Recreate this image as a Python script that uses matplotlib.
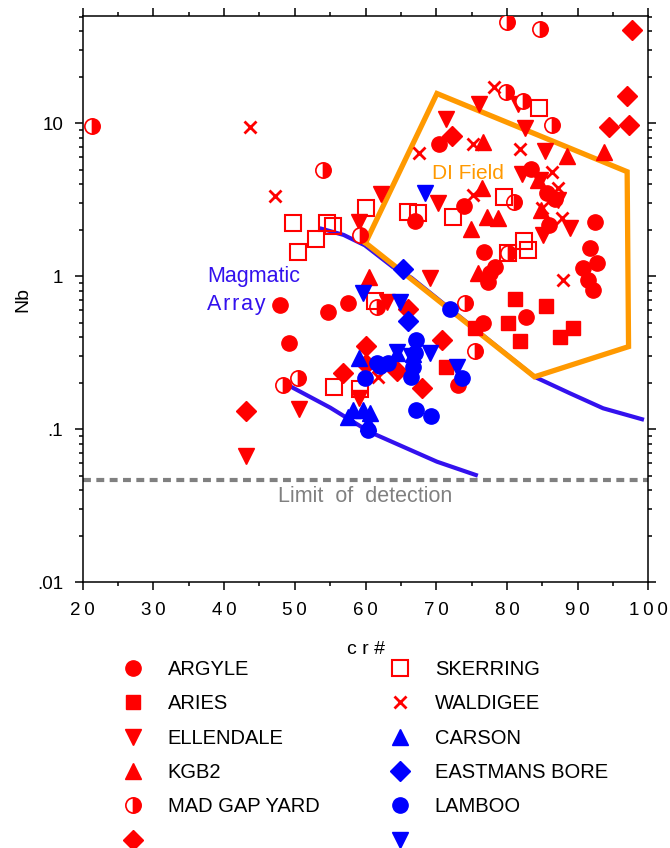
import matplotlib
matplotlib.use('Agg')
import matplotlib.pyplot as plt
from matplotlib.lines import Line2D
from matplotlib.ticker import FixedLocator, FixedFormatter, NullFormatter

plt.rcParams['font.family'] = ['Liberation Sans', 'DejaVu Sans']

# --- data (cr#, Nb) ---
argyle_cr = [47.9, 49.2, 54.7, 57.5, 67.0, 70.4, 83.4, 85.7, 86.8, 86.0, 73.9, 92.5,
             91.7, 92.8, 90.8, 91.5, 92.2, 76.8, 78.3, 77.3, 77.6, 82.7, 76.6, 73.1]
argyle_nb = [0.65, 0.37, 0.59, 0.67, 2.31, 7.34, 5.05, 3.51, 3.21, 2.17, 2.89, 2.27,
             1.53, 1.23, 1.14, 0.95, 0.82, 1.45, 1.15, 0.92, 1.05, 0.54, 0.50, 0.195]

aries_cr = [81.1, 85.5, 80.2, 75.5, 81.9, 89.3, 87.5, 71.4]
aries_nb = [0.71, 0.64, 0.50, 0.46, 0.38, 0.46, 0.40, 0.256]

ellendale_cr = [76.1, 71.4, 82.6, 85.4, 81.6, 62.2, 59.1, 70.3, 69.1, 63.0, 50.6, 43.1,
                82.1, 84.7, 87.2, 88.9, 85.1, 59.1]
ellendale_nb = [13.4, 10.7, 9.35, 6.61, 13.4, 3.46, 2.27, 3.02, 0.98, 0.68, 0.136, 0.067,
                4.68, 4.28, 3.16, 2.08, 1.87, 0.161]

kgb2_cr = [60.5, 93.7, 88.5, 76.6, 76.5, 74.9, 77.2, 78.7, 84.4, 84.8, 75.9]
kgb2_nb = [0.99, 6.51, 6.13, 7.57, 3.79, 2.04, 2.45, 2.41, 4.28, 2.72, 1.05]

madgap_cr = [21.3, 54.0, 80.0, 84.7, 79.8, 82.3, 86.4, 59.2, 48.3, 50.5, 74.1, 75.5,
             61.6, 81.0, 80.2]
madgap_nb = [9.63, 4.97, 46.0, 41.5, 16.1, 14.0, 9.78, 1.87, 0.195, 0.217, 0.67, 0.326,
             0.63, 3.07, 1.43]

red_diamond_cr = [97.7, 97.0, 94.4, 97.3, 72.2, 43.1, 56.8, 60.1, 60.1, 64.5, 70.8, 68.0, 66.0]
red_diamond_nb = [40.8, 15.1, 9.49, 9.78, 8.28, 0.132, 0.234, 0.351, 0.268, 0.241, 0.385,
                  0.187, 0.61]

skerring_cr = [49.7, 54.6, 55.4, 53.0, 50.5, 60.1, 66.0, 67.4, 72.4, 61.3, 84.5, 79.6,
               82.4, 83.0, 80.2, 55.5, 59.2]
skerring_nb = [2.24, 2.24, 2.14, 1.76, 1.45, 2.80, 2.64, 2.60, 2.45, 0.69, 12.6, 3.31,
               1.71, 1.49, 1.43, 0.19, 0.184]

waldigee_cr = [43.7, 47.2, 78.2, 67.6, 75.2, 81.9, 86.4, 87.2, 75.2, 85.0, 87.8, 87.9, 61.8]
waldigee_nb = [9.49, 3.36, 17.3, 6.42, 7.34, 6.81, 4.82, 3.79, 3.41, 2.80, 2.41, 0.95, 0.22]

carson_cr = [59.1, 58.2, 59.6, 60.4, 57.5, 64.5, 66.7, 60.6]
carson_nb = [0.293, 0.134, 0.134, 0.110, 0.121, 0.316, 0.31, 0.128]

eastmans_cr = [65.3, 66.0]
eastmans_nb = [1.12, 0.51]

lamboo_cr = [72.0, 67.1, 67.0, 66.7, 66.4, 73.7, 67.1, 69.3, 59.9, 61.6, 63.2, 62.1, 60.4]
lamboo_nb = [0.61, 0.385, 0.316, 0.256, 0.22, 0.217, 0.134, 0.122, 0.217, 0.272, 0.272,
             0.26, 0.099]

blue_down_cr = [68.4, 59.6, 64.9, 72.9, 64.5, 69.1, 66.4]
blue_down_nb = [3.51, 0.78, 0.68, 0.256, 0.321, 0.316, 0.30]

# DI field outline
di_cr = [60.0, 70.1, 97.0, 97.2, 83.9, 60.0]
di_nb = [1.66, 15.7, 4.84, 0.348, 0.221, 1.66]

# magmatic array curves (upper one runs under the DI field edge)
array_hi_cr = [53.8, 56.9, 59.9, 63.9, 66.5, 83.9, 88.9, 93.6, 99.1]
array_hi_nb = [2.05, 1.87, 1.60, 1.15, 0.98, 0.221, 0.1725, 0.1376, 0.1167]
array_lo_cr = [49.3, 55.0, 60.6, 65.3, 70.1, 75.6]
array_lo_nb = [0.192, 0.139, 0.0963, 0.0772, 0.0616, 0.0504]

detection_limit = 0.047

x_ticks = [20, 30, 40, 50, 60, 70, 80, 90, 100]
y_ticks = [0.01, 0.1, 1, 10]
y_tick_labels = ['.01', '.1', '1', '10']

RED = '#ff0000'
BLUE = '#0000ff'
ORANGE = '#ff9900'
VIOLET = '#3311ee'
GREY = '#808080'

groups = [
    ('ARGYLE', argyle_cr, argyle_nb, dict(marker='o', ms=11, mfc=RED, mec=RED)),
    ('ARIES', aries_cr, aries_nb, dict(marker='s', ms=10, mfc=RED, mec=RED)),
    ('ELLENDALE', ellendale_cr, ellendale_nb, dict(marker='v', ms=11, mfc=RED, mec=RED)),
    ('KGB2', kgb2_cr, kgb2_nb, dict(marker='^', ms=11, mfc=RED, mec=RED)),
    ('MAD GAP YARD', madgap_cr, madgap_nb,
     dict(marker='o', ms=11, fillstyle='right', mfc=RED, mfcalt='white', mec=RED, mew=1.2)),
    ('', red_diamond_cr, red_diamond_nb, dict(marker='D', ms=10, mfc=RED, mec=RED)),
    ('SKERRING', skerring_cr, skerring_nb, dict(marker='s', ms=11, mfc='none', mec=RED, mew=1.5)),
    ('WALDIGEE', waldigee_cr, waldigee_nb, dict(marker='x', ms=9, mec=RED, mew=2)),
    ('CARSON', carson_cr, carson_nb, dict(marker='^', ms=11, mfc=BLUE, mec=BLUE)),
    ('EASTMANS BORE', eastmans_cr, eastmans_nb, dict(marker='D', ms=10, mfc=BLUE, mec=BLUE)),
    ('LAMBOO', lamboo_cr, lamboo_nb, dict(marker='o', ms=11, mfc=BLUE, mec=BLUE)),
    ('', blue_down_cr, blue_down_nb, dict(marker='v', ms=11, mfc=BLUE, mec=BLUE)),
]

fig = plt.figure(figsize=(6.7, 8.48), dpi=100)
ax = fig.add_axes([0.1234, 0.3131, 0.8443, 0.668])

ax.plot(array_hi_cr, array_hi_nb, color=VIOLET, lw=3, zorder=2)
ax.plot(array_lo_cr, array_lo_nb, color=VIOLET, lw=3, zorder=2)
ax.plot(di_cr, di_nb, color=ORANGE, lw=3.8, zorder=3, solid_joinstyle='miter')
ax.axhline(detection_limit, color=GREY, lw=3, ls=(0, (1.9, 1.3)), zorder=2)

handles = []
labels = []
for name, xs, ys, style in groups:
    ax.plot(xs, ys, ls='none', zorder=4, **style)
    handles.append(Line2D([], [], ls='none', **style))
    labels.append(name)

ax.text(37.6, 1.0, 'Magmatic', color=VIOLET, fontsize=15.5, va='center', ha='left')
ax.text(37.6, 0.66, '\u200a'.join('Array'), color=VIOLET, fontsize=15.5, va='center', ha='left')
ax.text(69.4, 4.7, 'DI Field', color=ORANGE, fontsize=15, va='center', ha='left')
ax.text(60, 0.0367, 'Limit  of  detection', color=GREY, fontsize=15.5, va='center', ha='center')

ax.set_yscale('log')
ax.set_xlim(20, 100)
ax.set_ylim(0.01, 50.4)

ax.xaxis.set_major_locator(FixedLocator(x_ticks))
ax.xaxis.set_major_formatter(FixedFormatter(['\u2009'.join(str(v)) for v in x_ticks]))
ax.xaxis.set_minor_locator(FixedLocator([v + 5 for v in x_ticks[:-1]]))

ax.yaxis.set_major_locator(FixedLocator(y_ticks))
ax.yaxis.set_major_formatter(FixedFormatter(y_tick_labels))
minor_y = [m * 10.0 ** e for e in (-2, -1, 0, 1) for m in range(2, 10)]
ax.yaxis.set_minor_locator(FixedLocator(minor_y))
ax.yaxis.set_minor_formatter(NullFormatter())

ax.tick_params(which='both', direction='out', top=True, right=True, width=1.1,
               labelsize=13.5, pad=8)
ax.tick_params(which='major', length=6)
ax.tick_params(which='minor', length=3)
for sp in ax.spines.values():
    sp.set_linewidth(1.1)

ax.set_xlabel('c r #', fontsize=14, labelpad=16)
ax.set_ylabel('Nb', fontsize=14, labelpad=4)

fig.legend(handles, labels, ncol=2, loc='upper left', bbox_to_anchor=(0.184, 0.2215),
           frameon=False, fontsize=14.5, handlelength=1.0, handletextpad=1.2,
           columnspacing=3.53, labelspacing=0.76, borderpad=0, borderaxespad=0)

fig.savefig('out.png', dpi=100)
